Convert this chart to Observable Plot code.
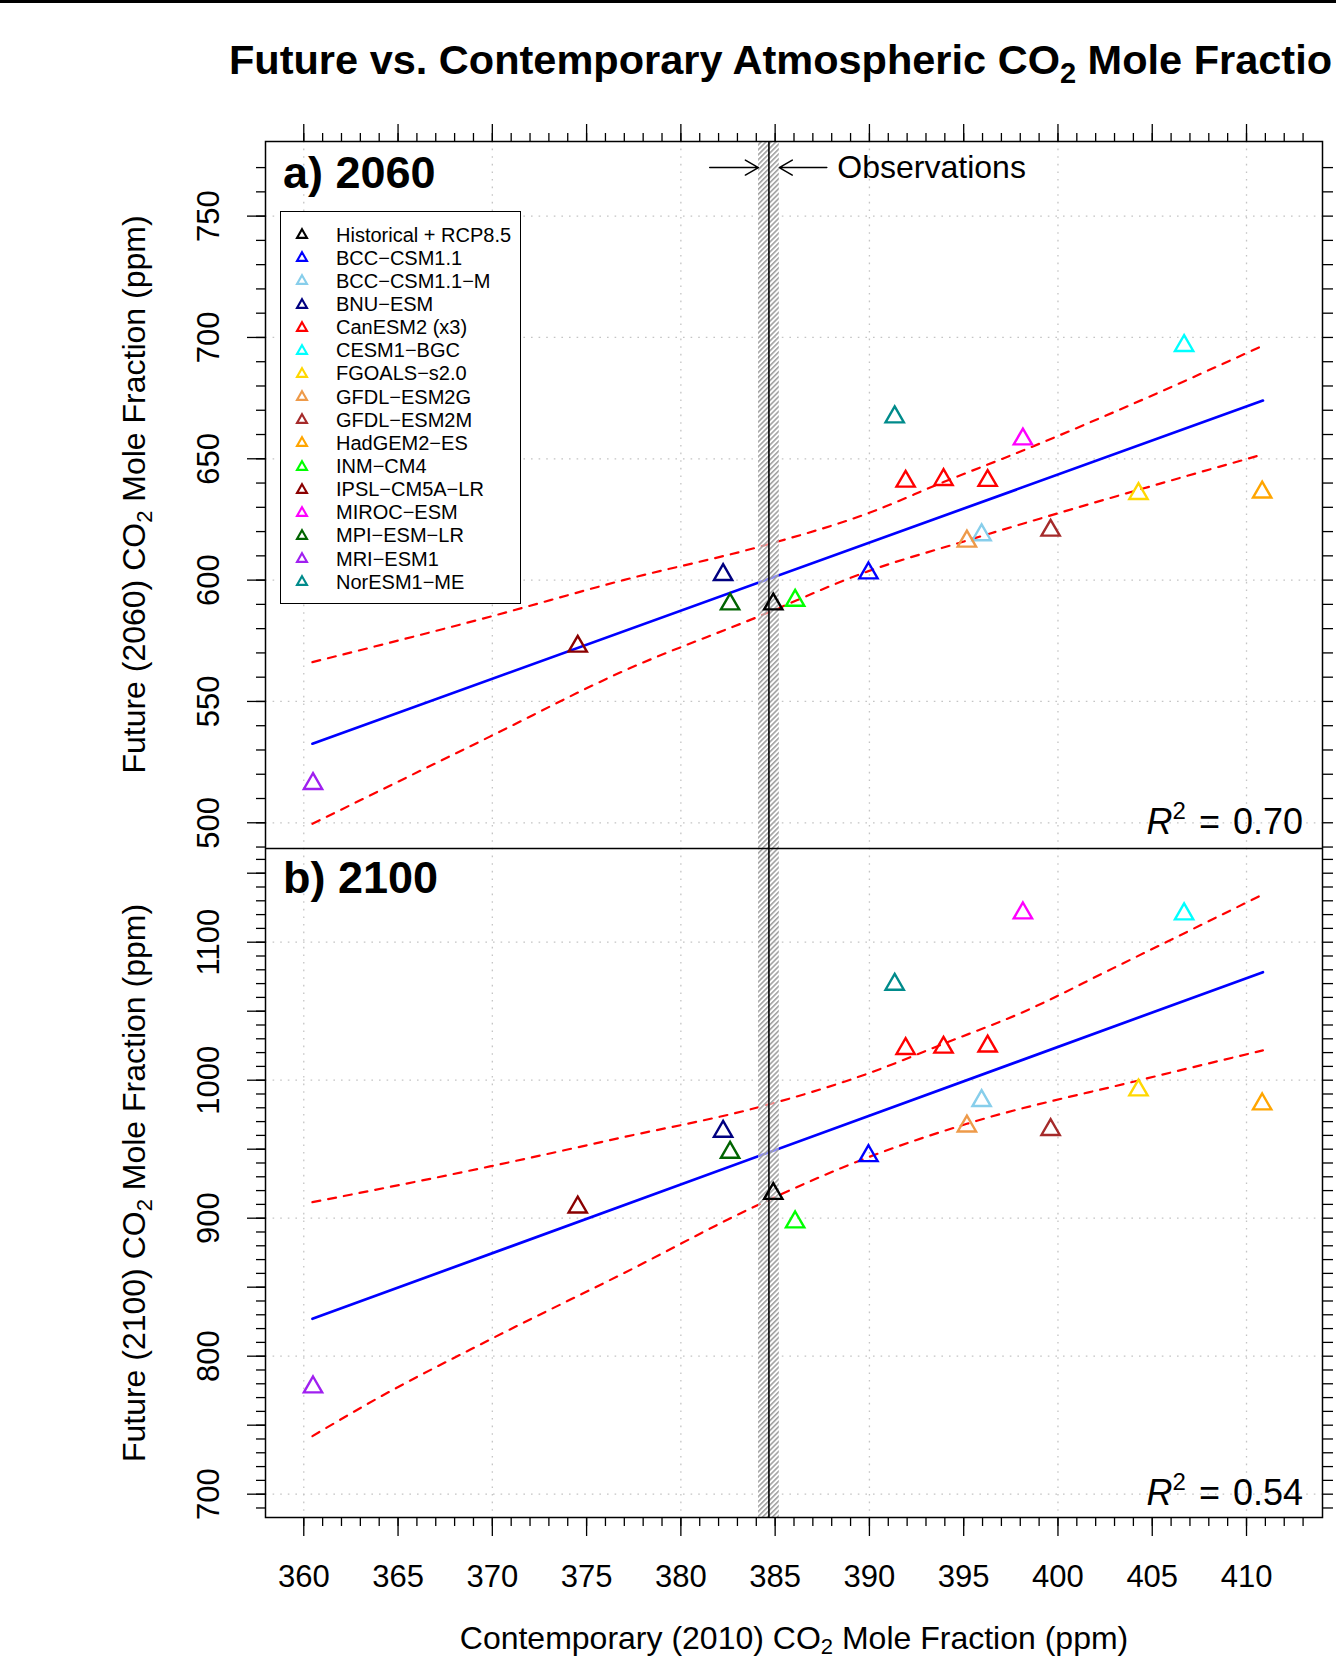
<!DOCTYPE html>
<html>
<head>
<meta charset="utf-8">
<script src="https://cdn.jsdelivr.net/npm/d3@7"></script>
<script src="https://cdn.jsdelivr.net/npm/@observablehq/plot@0.6"></script>
<style>
  body { margin: 0; background: #fff; }
  #wrap { position: relative; width: 1336px; height: 1661px; overflow: hidden; background: #fff;
          font-family: "Liberation Sans", Arial, Helvetica, sans-serif; color: #000; }
  #topbar { position: absolute; left: 0; top: 0; width: 1336px; height: 3px; background: #000; }
  .panel { position: absolute; left: 0; }
  #legend { position: absolute; left: 280px; top: 211px; width: 241px; height: 393px;
            border: 1.4px solid #000; box-sizing: border-box; background: #fff; }
  #legend .sym { position: absolute; left: 13px; width: 16px; height: 16px; }
  #legend .lab { position: absolute; left: 55px; height: 23.2px; line-height: 23.2px;
                 font-size: 20px; white-space: nowrap; }
</style>
</head>
<body>
<svg width="0" height="0" style="position:absolute">
  <defs>
    <pattern id="hatch" patternUnits="userSpaceOnUse" width="3.5" height="3.5" patternTransform="rotate(45)">
      <rect width="3.5" height="3.5" fill="#ffffff" fill-opacity="0.55"></rect>
      <line x1="0.8" y1="0" x2="0.8" y2="3.5" stroke="#9a9a9a" stroke-width="1.5"></line>
    </pattern>
  </defs>
</svg>
<div id="wrap"><div id="topbar"></div></div>
<script>
// ---------------- data ----------------
const models = ["Historical + RCP8.5", "BCC\u2212CSM1.1", "BCC\u2212CSM1.1\u2212M", "BNU\u2212ESM", "CanESM2 (x3)",
  "CESM1\u2212BGC", "FGOALS\u2212s2.0", "GFDL\u2212ESM2G", "GFDL\u2212ESM2M", "HadGEM2\u2212ES", "INM\u2212CM4",
  "IPSL\u2212CM5A\u2212LR", "MIROC\u2212ESM", "MPI\u2212ESM\u2212LR", "MRI\u2212ESM1", "NorESM1\u2212ME"];
const modelColors = ["#000000", "#0000FF", "#87CEEB", "#000080", "#FF0000", "#00FFFF", "#FFD700", "#EE9A49",
  "#A52A2A", "#FFA500", "#00FF00", "#8B0000", "#FF00FF", "#006400", "#A020F0", "#008B8B"];

// one entry per plotted triangle (CanESM2 has three members)
const pointModel = ["Historical + RCP8.5", "BCC\u2212CSM1.1", "BCC\u2212CSM1.1\u2212M", "BNU\u2212ESM",
  "CanESM2 (x3)", "CanESM2 (x3)", "CanESM2 (x3)", "CESM1\u2212BGC", "FGOALS\u2212s2.0", "GFDL\u2212ESM2G",
  "GFDL\u2212ESM2M", "HadGEM2\u2212ES", "INM\u2212CM4", "IPSL\u2212CM5A\u2212LR", "MIROC\u2212ESM",
  "MPI\u2212ESM\u2212LR", "MRI\u2212ESM1", "NorESM1\u2212ME"];
const co2_2010 = [384.9, 389.95, 395.95, 382.24, 391.92, 393.93, 396.27, 406.69, 404.27, 395.17,
  399.61, 410.83, 386.06, 374.53, 398.14, 382.61, 360.49, 391.34];
const co2_2060 = [590.1, 602.9, 618.6, 602.2, 640.7, 641.4, 641.0, 696.6, 635.6, 616.0,
  620.5, 636.2, 591.6, 572.7, 658.1, 590.1, 516.1, 667.2];
const co2_2100 = [917.8, 945.2, 985.1, 962.9, 1022.8, 1023.8, 1024.6, 1120.4, 992.8, 966.7,
  964.1, 982.7, 897.2, 908.0, 1121.1, 947.6, 777.6, 1069.4];

// regression line end points
const fitX = [360.46, 410.87];
const fitY2060 = [532.6, 674.0];
const fitY2100 = [827.1, 1078.3];

// dashed confidence curves
const upA_X = [360.46, 369.87, 376.95, 384.56, 389.95, 393.93, 398.14, 402.96, 410.87];
const upA_Y = [566.2, 584.9, 600.0, 614.6, 627.6, 640.4, 653.4, 669.2, 696.6];
const loA_X = [360.46, 369.87, 376.95, 384.03, 389.95, 395.17, 404.27, 410.87];
const loA_Y = [499.6, 535.5, 562.5, 584.7, 603.7, 616.3, 637.2, 651.8];
const upB_X = [360.46, 369.87, 376.95, 384.11, 390.04, 393.93, 398.14, 402.96, 410.87];
const upB_Y = [911.6, 937.5, 958.7, 980.4, 1005.4, 1026.4, 1049.3, 1081.4, 1134.6];
const loB_X = [360.46, 363.86, 369.87, 376.95, 384.03, 389.95, 395.17, 404.27, 410.87];
const loB_Y = [742.1, 769.1, 812.0, 860.0, 909.2, 944.2, 968.4, 999.8, 1021.6];

// observations (value and uncertainty band)
const obsCO2 = [384.67];
const obsLow = [384.12];
const obsHigh = [385.22];
const arrowFromX = [381.53, 387.74];
const arrowToX = [384.11, 385.22];
const arrowY = [770];
const obsLabel = ["Observations"];
const obsLabelX = [388.3];

// axes / tick labels
const xDomain = [357.97, 414.03];
const yDomainA = [489.4, 780.75];
const yDomainB = [683.1, 1167.9];
const xTickLabels = [360, 365, 370, 375, 380, 385, 390, 395, 400, 405, 410];
const xGrid = [360, 370, 380, 390, 400, 410];
const yTickLabelsA = [500, 550, 600, 650, 700, 750];
const yTickLabelsB = [700, 800, 900, 1000, 1100];
const yMajorB = [700, 750, 800, 850, 900, 950, 1000, 1050, 1100, 1150];
const r2Labels = ["0.70", "0.54"];
const panelLabels = ["a) 2060", "b) 2100"];

// ---------------- build ----------------
const FONT = "'Liberation Sans', Arial, Helvetica, sans-serif";
const xMinor = d3.range(360, 413.5, 1);
const yMinorA = d3.range(490, 771, 10);
const yMinorB = d3.range(690, 1161, 10);

const pts = pointModel.map((m, i) => ({model: m, x: co2_2010[i], y60: co2_2060[i], y100: co2_2100[i]}));
const zipXY = (xs, ys) => xs.map((x, i) => ({x, y: ys[i]}));
const band = obsCO2.map((v, i) => ({lo: obsLow[i], hi: obsHigh[i]}));
const arrows = arrowFromX.map((x, i) => ({x1: x, x2: arrowToX[i], y: arrowY[0]}));

const colorScale = {type: "ordinal", domain: models, range: modelColors};
const gridStyle = {stroke: "#c4c4c4", strokeOpacity: 1, strokeDasharray: "1.6,6", strokeWidth: 1.3};
const blank = () => "";

function panel({yDomain, yKey, fitY, upX, upY, loX, loY, yMinor, yMajor, yLabels, yGrid, top, height, mTop, mBottom, bottomAxis}) {
  const marks = [
    Plot.gridX({ticks: xGrid, ...gridStyle}),
    Plot.gridY({ticks: yGrid, ...gridStyle}),
    Plot.line(zipXY(upX, upY), {x: "x", y: "y", stroke: "#FF0000", strokeWidth: 2.2, strokeDasharray: "8,8", curve: "monotone-x"}),
    Plot.line(zipXY(loX, loY), {x: "x", y: "y", stroke: "#FF0000", strokeWidth: 2.2, strokeDasharray: "8,8", curve: "monotone-x"}),
    Plot.line(zipXY(fitX, fitY), {x: "x", y: "y", stroke: "#0000FF", strokeWidth: 2.7}),
    Plot.rect(band, {x1: "lo", x2: "hi", y1: yDomain[0], y2: yDomain[1], fill: "url(#hatch)"}),
    Plot.ruleX(obsCO2, {stroke: "#000", strokeWidth: 1.6}),
    Plot.dot(pts, {x: "x", y: yKey, stroke: "model", symbol: "triangle", r: 6.8, strokeWidth: 2.4, fill: "none"}),
    Plot.frame({stroke: "#000", strokeWidth: 1.5}),
    Plot.axisY({anchor: "left", ticks: yMajor, tickSize: 18, tickFormat: blank, label: null, strokeWidth: 1.3}),
    Plot.axisY({anchor: "left", ticks: yMinor, tickSize: 9, tickFormat: blank, label: null, strokeWidth: 1.3}),
    Plot.axisY({anchor: "right", ticks: yMinor, tickSize: 10, tickFormat: blank, label: null, strokeWidth: 1.3}),
    Plot.text(yLabels, {y: d => d, text: d => String(d), frameAnchor: "left", dx: -56, rotate: -90,
      fontSize: 31, textAnchor: "middle", lineAnchor: "middle"})
  ];
  if (bottomAxis) {
    marks.push(
      Plot.axisX({anchor: "bottom", ticks: xTickLabels, tickSize: 19, tickPadding: 28, fontSize: 31,
        tickFormat: d => String(d), label: null, strokeWidth: 1.3}),
      Plot.axisX({anchor: "bottom", ticks: xMinor, tickSize: 9, tickFormat: blank, label: null, strokeWidth: 1.3})
    );
  } else {
    marks.push(
      Plot.axisX({anchor: "top", ticks: xTickLabels, tickSize: 18, tickFormat: blank, label: null, strokeWidth: 1.3}),
      Plot.axisX({anchor: "top", ticks: xMinor, tickSize: 9, tickFormat: blank, label: null, strokeWidth: 1.3}),
      Plot.arrow(arrows, {x1: "x1", x2: "x2", y1: "y", y2: "y", stroke: "#000", strokeWidth: 1.5, headLength: 15, headAngle: 60}),
      Plot.text(obsLabel, {x: obsLabelX[0], y: arrowY[0], text: d => d, textAnchor: "start", lineAnchor: "middle", fontSize: 32})
    );
  }
  const svg = Plot.plot({
    width: 1336, height,
    marginTop: mTop, marginBottom: mBottom, marginLeft: 265, marginRight: 14,
    x: {domain: xDomain},
    y: {domain: yDomain},
    color: colorScale,
    style: {fontFamily: FONT, fontSize: "31px", background: "transparent", color: "#000"},
    marks
  });
  svg.classList.add("panel");
  svg.style.top = top + "px";
  svg.style.left = "0px";
  svg.style.position = "absolute";
  svg.style.maxWidth = "none";
  document.getElementById("wrap").appendChild(svg);
}

panel({yDomain: yDomainA, yKey: "y60", fitY: fitY2060, upX: upA_X, upY: upA_Y, loX: loA_X, loY: loA_Y,
  yMinor: yMinorA, yMajor: yTickLabelsA, yLabels: yTickLabelsA, yGrid: yTickLabelsA,
  top: 100, height: 748, mTop: 41, mBottom: 0, bottomAxis: false});
panel({yDomain: yDomainB, yKey: "y100", fitY: fitY2100, upX: upB_X, upY: upB_Y, loX: loB_X, loY: loB_Y,
  yMinor: yMinorB, yMajor: yMajorB, yLabels: yTickLabelsB, yGrid: yTickLabelsB,
  top: 848, height: 752, mTop: 0, mBottom: 83, bottomAxis: true});

// ---------------- titles and annotations ----------------
const ov = d3.select("#wrap").append("svg")
  .attr("width", 1336).attr("height", 1661)
  .style("position", "absolute").style("left", "0px").style("top", "0px")
  .style("pointer-events", "none").attr("font-family", FONT);

// the reference figure is cropped at its right edge, so its title reads "... Mole Fractio"
const title = ov.append("text").attr("x", 229).attr("y", 74).attr("font-size", 41.5).attr("font-weight", "bold");
title.append("tspan").text("Future vs. Contemporary Atmospheric CO");
title.append("tspan").attr("font-size", 29).attr("dy", 9).text("2");
title.append("tspan").attr("dy", -9).text(" Mole Fractio");

function yTitle(cy, year) {
  const t = ov.append("text").attr("transform", `translate(145,${cy}) rotate(-90)`)
    .attr("text-anchor", "middle").attr("font-size", 32);
  t.append("tspan").text(`Future (${year}) CO`);
  t.append("tspan").attr("font-size", 22).attr("dy", 7).text("2");
  t.append("tspan").attr("dy", -7).text(" Mole Fraction (ppm)");
}
yTitle(494.5, 2060);
yTitle(1183, 2100);

const xt = ov.append("text").attr("x", 794).attr("y", 1649).attr("text-anchor", "middle").attr("font-size", 32);
xt.append("tspan").text("Contemporary (2010) CO");
xt.append("tspan").attr("font-size", 22).attr("dy", 5).text("2");
xt.append("tspan").attr("dy", -5).text(" Mole Fraction (ppm)");

[188, 893].forEach((y, i) => {
  ov.append("text").attr("x", 283).attr("y", y).attr("font-size", 45).attr("font-weight", "bold").text(panelLabels[i]);
});
[833.5, 1504.5].forEach((y, i) => {
  const t = ov.append("text").attr("x", 1303).attr("y", y).attr("text-anchor", "end").attr("font-size", 36);
  t.append("tspan").attr("font-style", "italic").text("R");
  t.append("tspan").attr("font-size", 24).attr("dy", -15).text("2");
  t.append("tspan").attr("dy", 15).attr("dx", 3).text(" =");
  t.append("tspan").attr("dx", 3).text(" " + r2Labels[i]);
});

// ---------------- legend ----------------
const legend = d3.select("#wrap").append("div").attr("id", "legend");
models.forEach((m, i) => {
  const cy = 23.1 + 23.15 * i;
  legend.append("svg").attr("class", "sym").style("top", (cy - 8) + "px")
    .attr("viewBox", "-8 -8 16 16")
    .append("polygon").attr("points", "0,-5.8 5,2.9 -5,2.9")
    .attr("fill", "none").attr("stroke", modelColors[i]).attr("stroke-width", 2.1);
  legend.append("div").attr("class", "lab").style("top", (cy - 11.6) + "px").text(m);
});
</script>
</body>
</html>
